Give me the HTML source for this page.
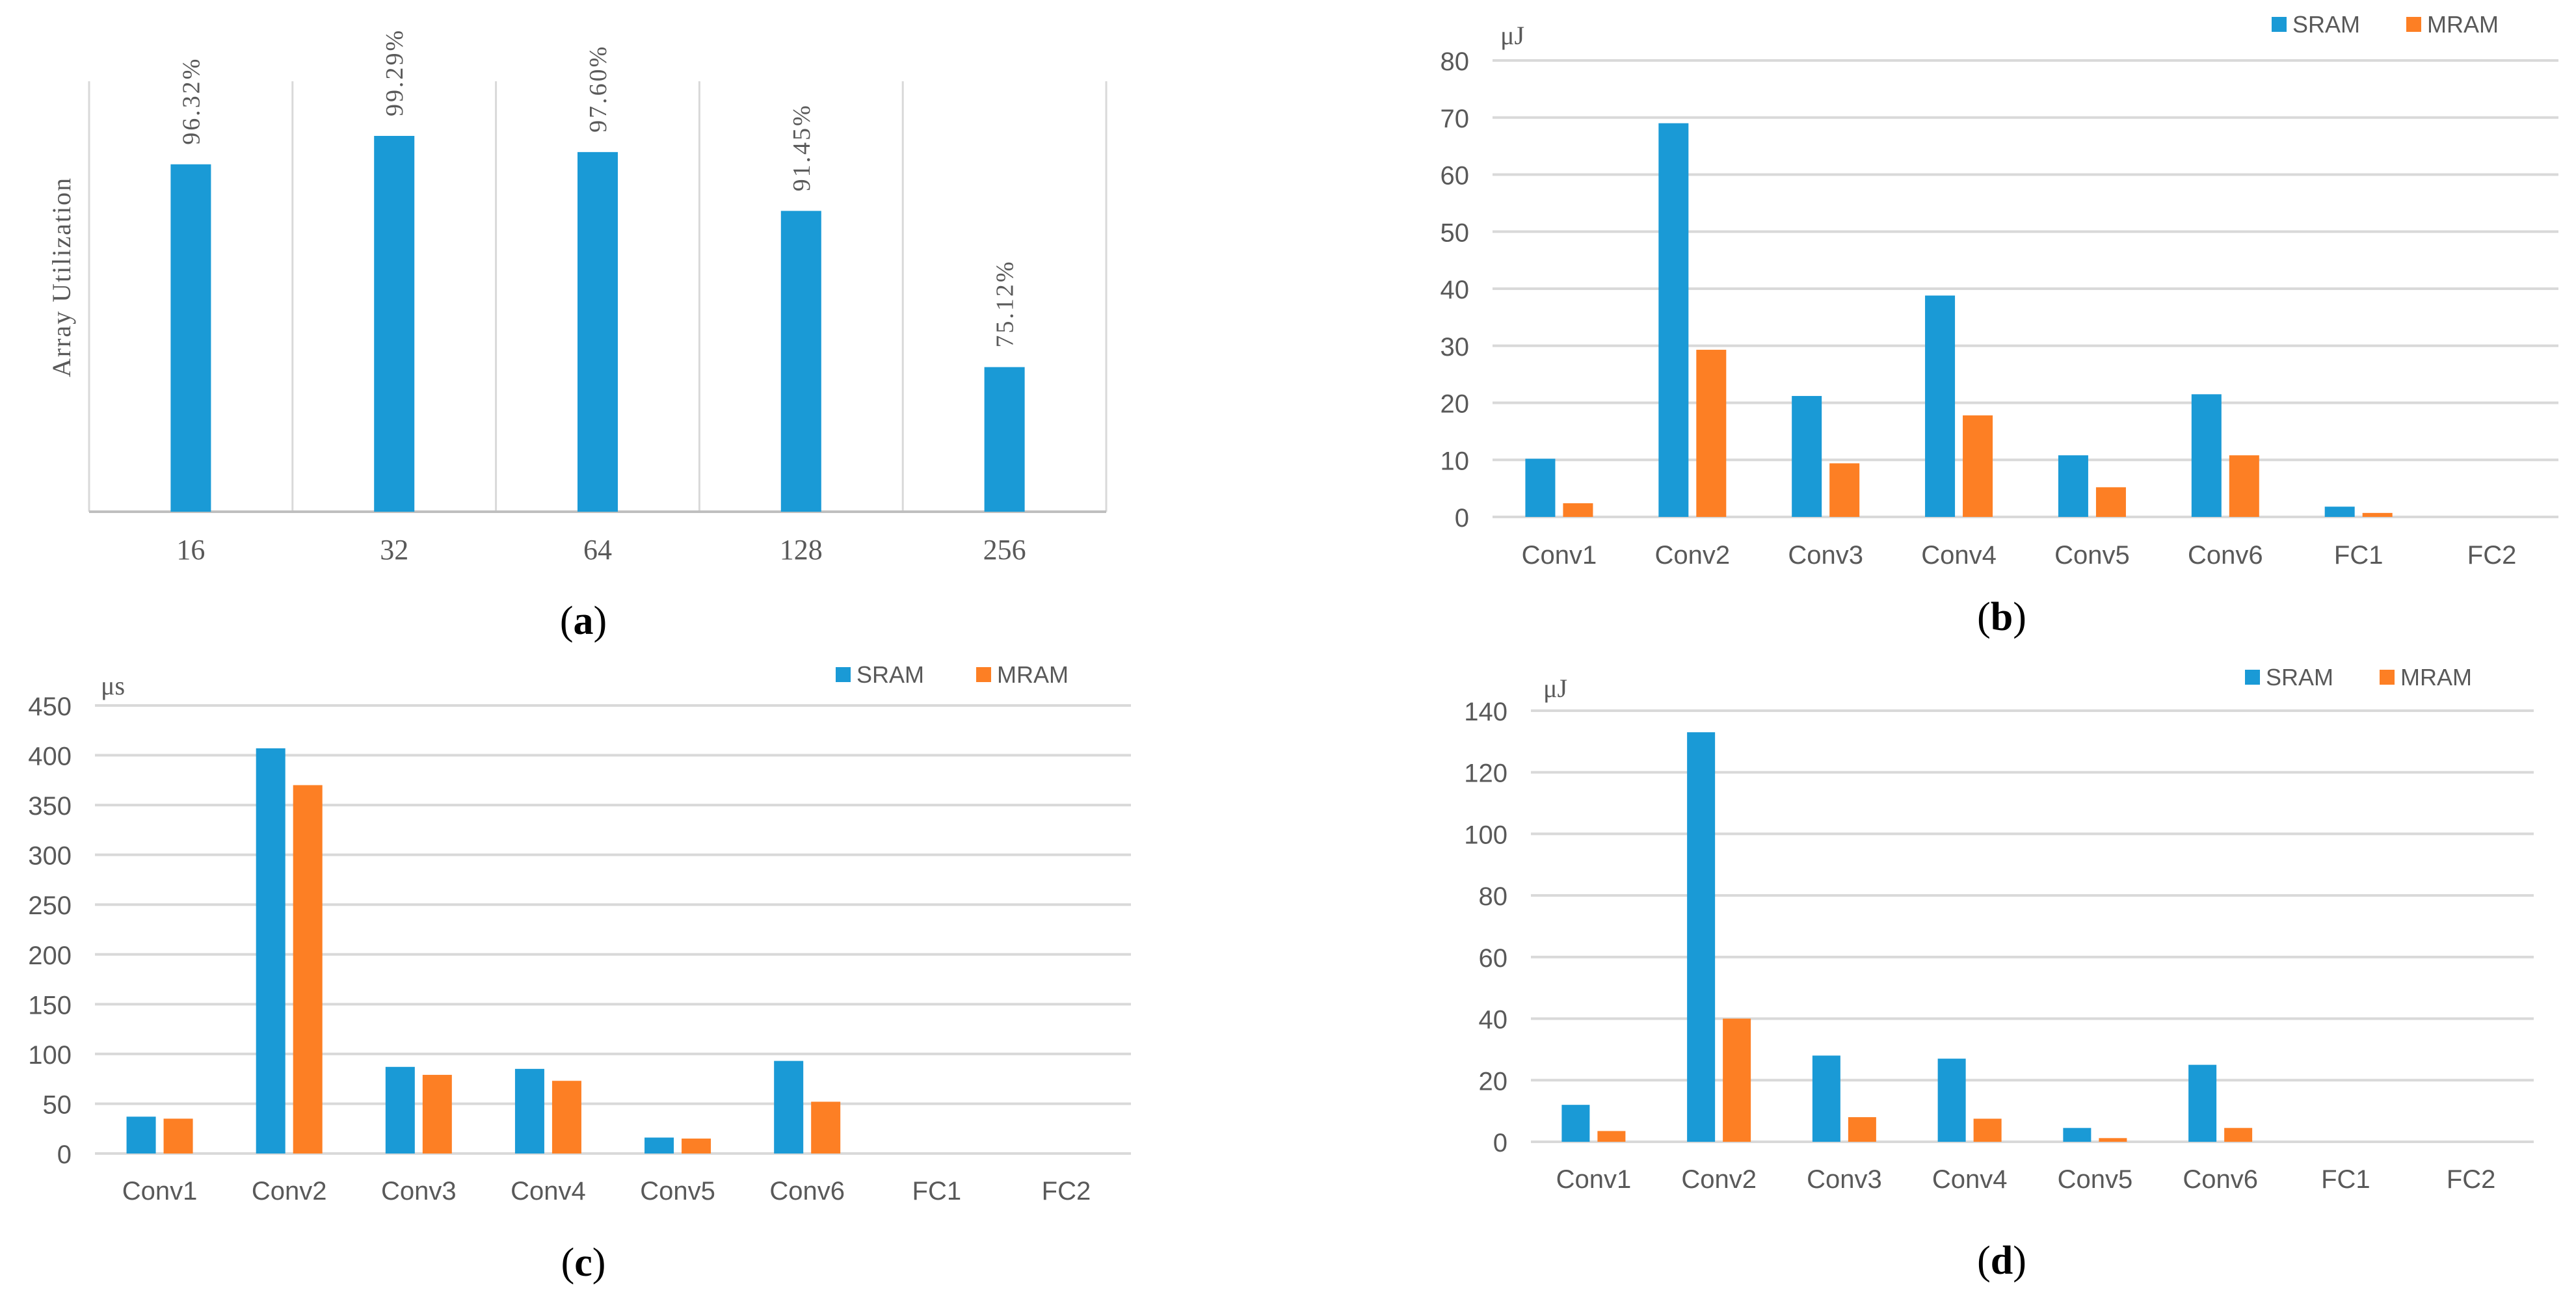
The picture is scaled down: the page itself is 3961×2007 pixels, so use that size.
<!DOCTYPE html>
<html><head><meta charset="utf-8">
<style>
html,body{margin:0;padding:0;background:#fff;}
svg{display:block;}
.sans{font-family:"Liberation Sans",sans-serif;}
.serif{font-family:"Liberation Serif",serif;}
</style></head>
<body>
<svg id="fig" width="3961" height="2007" viewBox="0 0 3961 2007" xmlns="http://www.w3.org/2000/svg"></svg>
<script>
// ---- data ----
const utilCategories = ["16","32","64","128","256"];
const utilValues = [96.32, 99.29, 97.60, 91.45, 75.12];
const utilLabels = ["96.32%","99.29%","97.60%","91.45%","75.12%"];

const layerCategories = ["Conv1","Conv2","Conv3","Conv4","Conv5","Conv6","FC1","FC2"];
const seriesNames = ["SRAM","MRAM"];

const energyB_SRAM = [10.2, 69, 21.2, 38.8, 10.8, 21.5, 1.8, 0];
const energyB_MRAM = [2.4, 29.3, 9.4, 17.8, 5.2, 10.8, 0.7, 0];
const ticksB = [0,10,20,30,40,50,60,70,80];

const latencyC_SRAM = [37, 407, 87, 85, 16, 93, 0, 0];
const latencyC_MRAM = [35, 370, 79, 73, 15, 52, 0, 0];
const ticksC = [0,50,100,150,200,250,300,350,400,450];

const energyD_SRAM = [12, 133, 28, 27, 4.5, 25, 0, 0];
const energyD_MRAM = [3.5, 40, 8, 7.5, 1.2, 4.5, 0, 0];
const ticksD = [0,20,40,60,80,100,120,140];

const BLUE="#1a9ad6", ORANGE="#fd7f24", GRID="#d9d9d9", TXT="#595959";
const svg=document.getElementById('fig');
const NS="http://www.w3.org/2000/svg";
function mk(tag, attrs, parent){
  const e=document.createElementNS(NS,tag);
  for(const k in attrs) e.setAttribute(k,attrs[k]);
  (parent||svg).appendChild(e); return e;
}

// ---- chart (a) ----
(function(){
  const g=mk('g',{});
  
  
  const x0=137, x1=1701, y0=787, yTop=125, vmin=60, vmax=105;
  const band=(x1-x0)/utilCategories.length;
  const ys=v=>y0-(v-vmin)/(vmax-vmin)*(y0-yTop);
  for(let i=0;i<=utilCategories.length;i++){
    const l=mk('line',{x1:x0+i*band,x2:x0+i*band,y1:yTop,y2:y0,stroke:GRID,'stroke-width':3},g);
    
    
  }
  const base=mk('line',{x1:x0,x2:x1,y1:y0,y2:y0,stroke:"#bfbfbf",'stroke-width':4},g);
  
  
  utilValues.forEach((v,i)=>{
    const cx=x0+band*(i+0.5);
    const r=mk('rect',{x:cx-31,y:ys(v),width:62,height:y0-ys(v),fill:BLUE},g);
    
    
    const t=mk('text',{x:0,y:0,transform:`translate(${cx+13},${ys(v)-30}) rotate(-90)`,'font-size':38,fill:TXT,class:'serif','letter-spacing':3},g);
    t.textContent=utilLabels[i];
    
    
    const c=mk('text',{x:cx,y:860,'text-anchor':'middle','font-size':44,fill:TXT,class:'serif'},g);
    c.textContent=utilCategories[i];
    
    
  });
  const yt=mk('text',{x:0,y:0,transform:'translate(108,426) rotate(-90)','text-anchor':'middle','font-size':40,fill:TXT,class:'serif','letter-spacing':2},g);
  yt.textContent="Array Utilization";
  
  
  const cap=mk('text',{x:897,y:975,'text-anchor':'middle','font-size':62,fill:'#000',class:'serif'},g);
  cap.innerHTML='(<tspan font-weight="bold">a</tspan>)';
  
  
})();

// ---- grouped charts ----
function grouped(cfg){
  const g=mk('g',{});
  
  
  const {x0,x1,y0,yTop,ticks,s1,s2}=cfg;
  const vmax=ticks[ticks.length-1];
  const ys=v=>y0-v/vmax*(y0-yTop);
  const band=(x1-x0)/layerCategories.length;
  ticks.forEach(t=>{
    const l=mk('line',{x1:x0,x2:x1,y1:ys(t),y2:ys(t),stroke:GRID,'stroke-width':4},g);
    
    
    const tx=mk('text',{x:x0-36,y:ys(t)+15,'text-anchor':'end','font-size':40,fill:TXT,class:'sans'},g);
    tx.textContent=t;
    
    
  });
  const bw=cfg.bw, gap=cfg.gap;
  layerCategories.forEach((c,i)=>{
    const cx=x0+band*(i+0.5);
    const v1=s1[i], v2=s2[i];
    const r1=mk('rect',{x:cx-gap/2-bw,y:ys(v1),width:bw,height:y0-ys(v1),fill:BLUE},g);
    
    
    const r2=mk('rect',{x:cx+gap/2,y:ys(v2),width:bw,height:y0-ys(v2),fill:ORANGE},g);
    
    
    const t=mk('text',{x:cx,y:cfg.labY+14,'text-anchor':'middle','font-size':40,fill:TXT,class:'sans'},g);
    t.textContent=c;
    
    
  });
  const u=mk('text',{x:cfg.unitX,y:cfg.unitY+14,'font-size':40,fill:TXT,class:'serif'},g);
  u.textContent=cfg.unit;
  
  
  [[cfg.lg1,BLUE,seriesNames[0]],[cfg.lg2,ORANGE,seriesNames[1]]].forEach(([lx,col,nm])=>{
    const sq=mk('rect',{x:lx,y:cfg.lgY-11,width:23,height:23,fill:col},g);
    
    
    const lt=mk('text',{x:lx+32,y:cfg.lgY+13,'font-size':36,fill:TXT,class:'sans'},g);
    lt.textContent=nm;
    
    
  });
  const cap=mk('text',{x:cfg.capX,y:cfg.capY+20,'text-anchor':'middle','font-size':62,fill:'#000',class:'serif'},g);
  cap.innerHTML='(<tspan font-weight="bold">'+cfg.cap+'</tspan>)';
  
  
}
grouped({name:'chart-b-energy',x0:2295,x1:3934,y0:795,yTop:93,ticks:ticksB,s1:energyB_SRAM,s2:energyB_MRAM,bw:46,gap:12,labY:853,unit:'μJ',unitX:2307,unitY:54,lg1:3493,lg2:3700,lgY:37,capX:3078,capY:949,cap:'b'});
grouped({name:'chart-c-latency',x0:146,x1:1739,y0:1774,yTop:1085,ticks:ticksC,s1:latencyC_SRAM,s2:latencyC_MRAM,bw:45,gap:12,labY:1831,unit:'μs',unitX:155,unitY:1054,lg1:1285,lg2:1501,lgY:1037,capX:897,capY:1942,cap:'c'});
grouped({name:'chart-d-energy',x0:2354,x1:3896,y0:1756,yTop:1093,ticks:ticksD,s1:energyD_SRAM,s2:energyD_MRAM,bw:43,gap:12,labY:1813,unit:'μJ',unitX:2373,unitY:1058,lg1:3452,lg2:3659,lgY:1041,capX:3078,capY:1939,cap:'d'});
</script>
</body></html>
